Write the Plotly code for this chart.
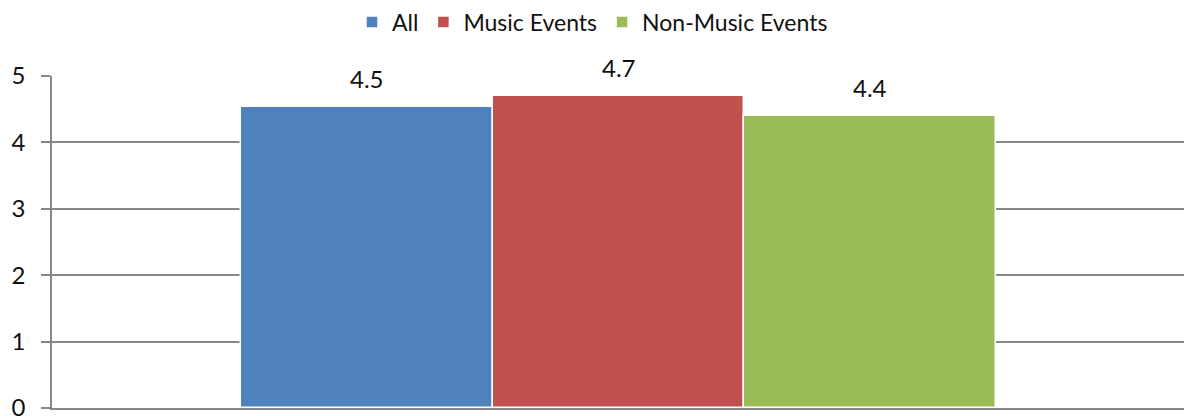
import plotly.graph_objects as go

categories = ["All", "Music Events", "Non-Music Events"]
values = [4.54, 4.7, 4.4]
colors = ["#4F81BD", "#C0504D", "#9BBB59"]
y_ticks = [0, 1, 2, 3, 4, 5]

FONT = "Lato, 'Open Sans', sans-serif"
GRID = "#878787"

fig = go.Figure()
for cat, val, col in zip(categories, values, colors):
    fig.add_trace(go.Bar(
        x=[cat], y=[val], name=cat,
        marker=dict(color=col, line=dict(color="white", width=1.5)),
        width=1.0,
    ))
    fig.add_annotation(
        x=cat, y=val, text=f"{val:.1f}", showarrow=False,
        yanchor="bottom", yshift=12,
        font=dict(family=FONT, size=24, color="#111111"),
    )

fig.update_layout(
    width=1185, height=416,
    margin=dict(l=52, r=1, t=76, b=8, autoexpand=False),
    plot_bgcolor="white", paper_bgcolor="white",
    barmode="overlay", bargap=0,
    font=dict(family=FONT, size=23, color="#111111"),
    legend=dict(
        orientation="h", xref="container", yref="container",
        x=0.5, xanchor="center", y=1 - 22 / 416, yanchor="middle",
        itemwidth=30, font=dict(family=FONT, size=23, color="#111111"),
        traceorder="normal",
    ),
    showlegend=True,
)
fig.update_xaxes(
    type="category", range=[-1.252, 3.248], automargin=False,
    showticklabels=False, showgrid=False, ticks="",
    showline=True, linecolor=GRID, linewidth=1.5,
)
fig.update_yaxes(
    range=[0, 5], tickvals=y_ticks, ticktext=[str(t) for t in y_ticks],
    automargin=False,
    showgrid=True, gridcolor=GRID, gridwidth=1.5,
    zeroline=False, showline=True, linecolor=GRID, linewidth=1.5,
    ticks="outside", ticklen=9, tickcolor=GRID, tickwidth=1.5,
    ticklabelstandoff=11, ticklabeloverflow="allow",
    tickfont=dict(family=FONT, size=24, color="#111111"),
)

fig.write_html("out.html")
